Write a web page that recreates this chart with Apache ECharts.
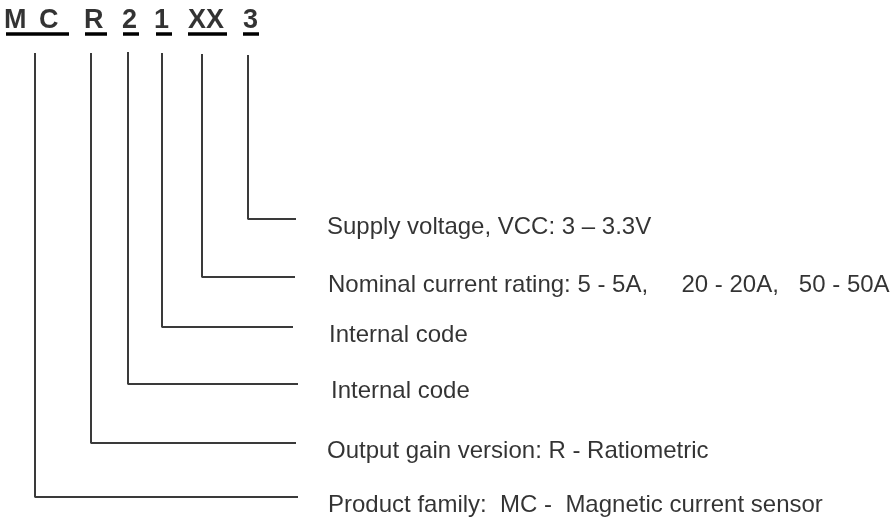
<!DOCTYPE html>
<html><head><meta charset="utf-8">
<script src="https://cdn.jsdelivr.net/npm/echarts@6/dist/echarts.min.js"></script>
<style>html,body{margin:0;padding:0;background:#fff}#c{width:891px;height:518px}</style>
</head><body><div id="c"></div>
<script>
// ---- content ----
const codeParts = ['M', 'C', 'R', '2', '1', 'XX', '3'];
const descriptions = [
  'Supply voltage, VCC: 3 \u2013 3.3V',
  'Nominal current rating: 5 - 5A,     20 - 20A,   50 - 50A',
  'Internal code',
  'Internal code',
  'Output gain version: R - Ratiometric',
  'Product family:  MC -  Magnetic current sensor'
];
// ---- layout (diagram coordinates, px-like) ----
const headerX = [4, 39, 84, 122, 154, 188, 243];
const headerY = 21;
const underlineStart = [6, 85, 123, 156, 188, 243];
const underlineEnd = [69, 107, 139, 172, 227, 259];
const underlineY = 34;
// connectors, ordered top description to bottom (3, XX, 1, 2, R, MC)
const stemX = [248, 202, 162, 128, 91, 35];
const stemTop = [55, 54, 53, 52, 53, 53];
const elbowY = [219, 277, 327, 384, 443, 497];
const stemEnd = [296, 295, 293, 298, 296, 298];
const textX = [327, 328, 329, 331, 327, 328];
const textY = [227, 285, 335, 391, 451, 505];

const series = [];
stemX.forEach((x, i) => {
  series.push({
    type: 'line', symbol: 'none', silent: true,
    lineStyle: { color: '#3a3a3a', width: 2 },
    data: [[x, stemTop[i]], [x, elbowY[i]], [stemEnd[i], elbowY[i]]]
  });
});
underlineStart.forEach((x, i) => {
  series.push({
    type: 'line', symbol: 'none', silent: true,
    lineStyle: { color: '#000', width: 3.5 },
    data: [[x, underlineY], [underlineEnd[i], underlineY]]
  });
});
series.push({
  type: 'scatter', symbolSize: 0, silent: true,
  data: codeParts.map((t, i) => ({ name: t, value: [headerX[i], headerY] })),
  label: { show: true, position: 'right', distance: 0, formatter: p => p.name,
    fontFamily: 'Liberation Sans, Arial, sans-serif', fontWeight: 'bold', fontSize: 27, color: '#000' }
});
series.push({
  type: 'scatter', symbolSize: 0, silent: true,
  data: descriptions.map((t, i) => ({ name: t, value: [textX[i], textY[i]] })),
  label: { show: true, position: 'right', distance: 0, formatter: p => p.name,
    fontFamily: 'Liberation Sans, Arial, sans-serif', fontSize: 24, color: '#000' }
});

const chart = echarts.init(document.getElementById('c'));
chart.setOption({
  animation: false,
  grid: { left: 0, right: 0, top: 0, bottom: 0 },
  xAxis: { type: 'value', min: 0, max: 891, show: false },
  yAxis: { type: 'value', min: 0, max: 518, inverse: true, show: false },
  series: series
});
</script></body></html>
